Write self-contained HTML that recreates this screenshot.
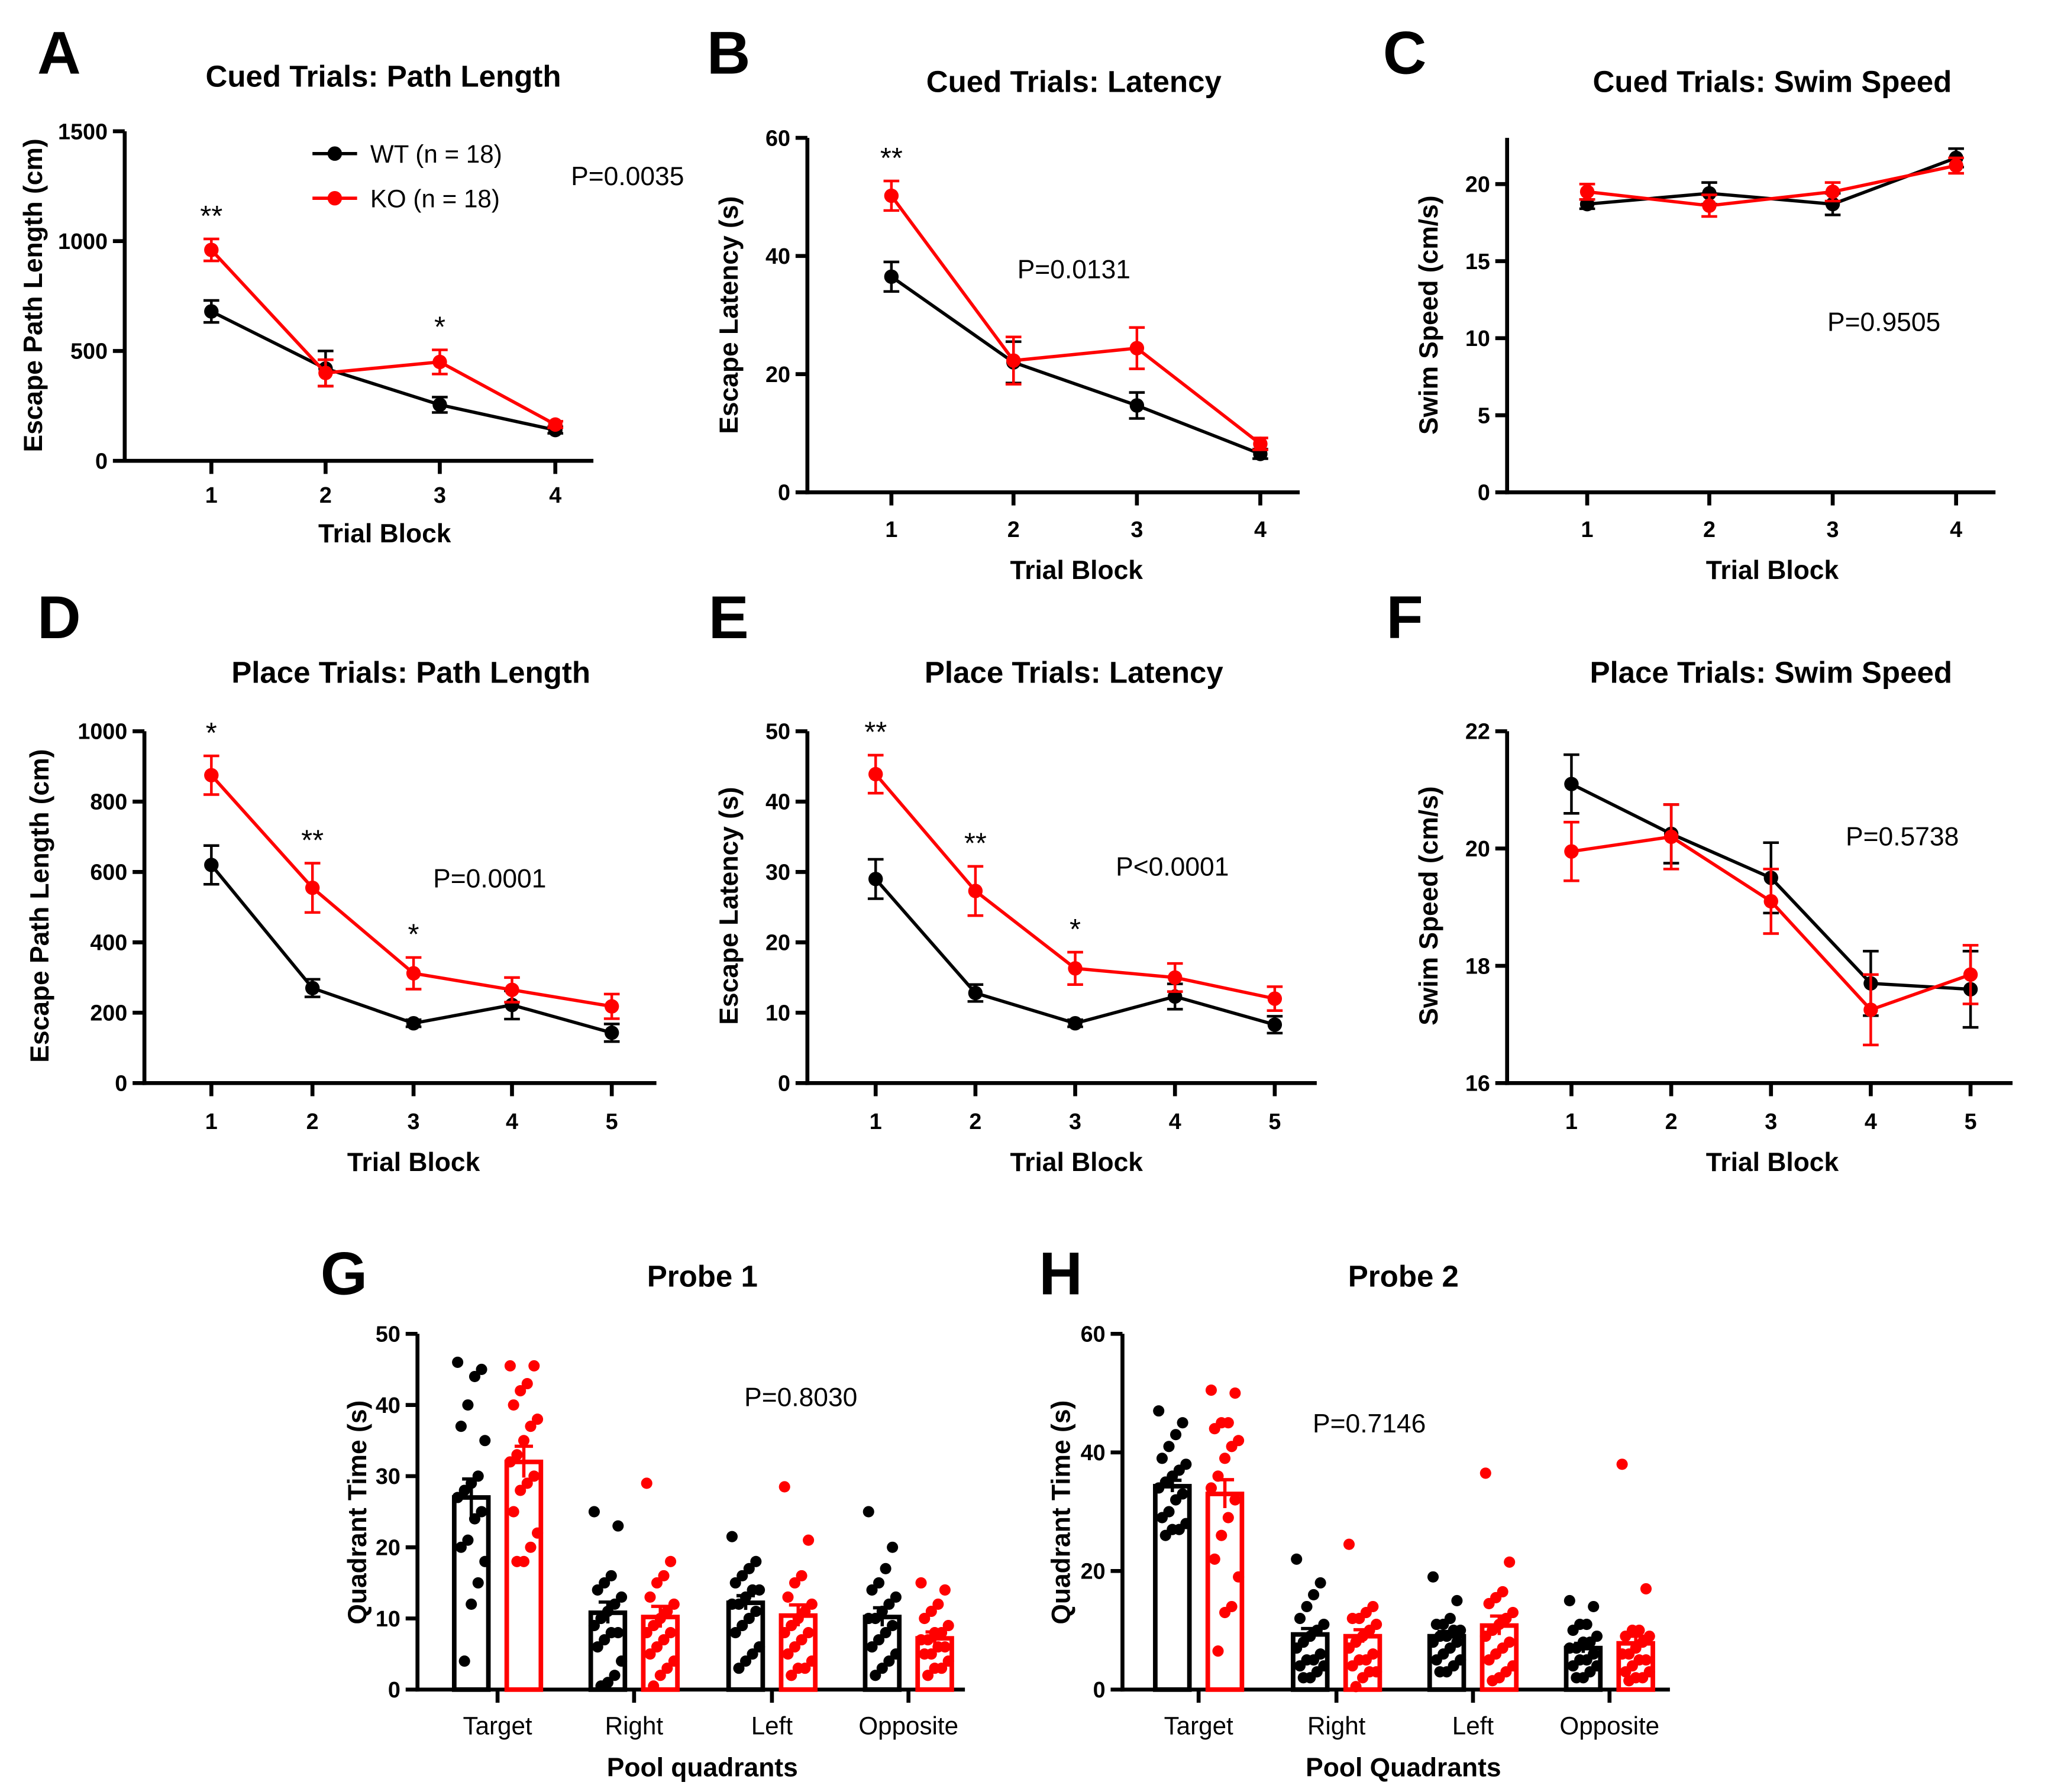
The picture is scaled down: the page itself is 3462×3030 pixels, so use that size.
<!DOCTYPE html>
<html><head><meta charset="utf-8"><style>
html,body{margin:0;padding:0;background:#fff}
svg{display:block}
text{font-family:"Liberation Sans",Arial,sans-serif}
</style></head><body>
<svg id="fig" xmlns="http://www.w3.org/2000/svg" width="3462" height="3030" viewBox="0 0 1560 1365" preserveAspectRatio="none"></svg>
<script>
// ---------- DATA ----------
const cuedBlocks = ["1","2","3","4"];
const placeBlocks = ["1","2","3","4","5"];
const aWT = [680,420,255,140], aWTerr=[50,80,35,15];
const aKO = [960,400,450,165], aKOerr=[50,60,55,15];
const aTicks = [0,500,1000,1500];
const bWT = [36.5,22,14.7,6.5], bWTerr=[2.5,3.5,2.2,0.8];
const bKO = [50.2,22.3,24.4,8.2], bKOerr=[2.5,4,3.5,1];
const bTicks = [0,20,40,60];
const cWT = [18.7,19.4,18.7,21.7], cWTerr=[0.3,0.7,0.7,0.6];
const cKO = [19.5,18.6,19.5,21.2], cKOerr=[0.5,0.7,0.6,0.5];
const cTicks = [0,5,10,15,20];
const dWT = [620,270,170,222,143], dWTerr=[55,25,10,40,25];
const dKO = [875,555,312,265,218], dKOerr=[55,70,45,35,35];
const dTicks = [0,200,400,600,800,1000];
const eWT = [29,12.8,8.5,12.3,8.3], eWTerr=[2.8,1.2,0.5,1.8,1.2];
const eKO = [43.9,27.3,16.3,15,12], eKOerr=[2.7,3.5,2.3,2,1.7];
const eTicks = [0,10,20,30,40,50];
const fWT = [21.1,20.25,19.5,17.7,17.6], fWTerr=[0.5,0.5,0.6,0.55,0.65];
const fKO = [19.95,20.2,19.1,17.25,17.85], fKOerr=[0.5,0.55,0.55,0.6,0.5];
const fTicks = [16,18,20,22];
const quadrants = ["Target","Right","Left","Opposite"];
const gWTmean=[27,10.8,12.2,10.2], gWTerr=[2.6,1.5,1.0,1.3];
const gKOmean=[32,10.2,10.4,7.2], gKOerr=[2.2,1.5,1.5,0.9];
const gWTpts=[[46,45,44,40,37,35,30,29,28,27,25,24,21,20,18,15,12,4],
 [25,23,16,15,14,13,12,11,10,9,8,8,7,6,4,2,1,0.5],
 [21.5,18,17,16,15,14,14,13,12,12,11,10,9,8,6,5,4,3],
 [25,20,17,15,14,13,12,11,10,10,9,8,7,6,5,4,3,2]];
const gKOpts=[[45.5,45.5,43,42,40,38,37,35,33,32,30,29,28,25,22,20,18,18],
 [29,18,16,15,13,12,11,10,9,8,8,7,6,5,4,3,2,0.5],
 [28.5,21,16,15,13,12,11,10,9,8,8,7,6,5,4,3,3,2],
 [15,14,12,11,10,9,8,8,7,7,6,6,5,5,4,3,3,2]];
const gTicks=[0,10,20,30,40,50];
const hWTmean=[34.3,9.3,9.0,7.0], hWTerr=[1.0,1.0,0.8,0.8];
const hKOmean=[33,9.0,10.8,7.8], hKOerr=[2.4,1.1,1.6,1.2];
const hWTpts=[[47,45,43,41,39,38,37,36,35,34,33,32,30,29,28,27,27,26],
 [22,18,16,14,12,11,10,9,8,7,6,5,5,4,4,3,2,2],
 [19,15,12,11,11,10,10,9,9,8,8,7,6,5,5,4,3,3],
 [15,14,11,11,10,9,8,8,7,7,6,5,5,4,4,3,2,2]];
const hKOpts=[[50.5,50,45,45,44,42,41,39,36,34,32,29,26,22,19,14,13,6.5],
 [24.5,14,13,12,12,11,10,9,8,7,6,5,5,4,3,3,2,0.5],
 [36.5,21.5,16.5,15.5,14.5,13,12,11,10,9,8,7,6,5,4,3,2,1.5],
 [38,17,10,10,9,9,8,7,6,6,5,5,4,3,3,2,2,1.5]];
const hTicks=[0,20,40,60];

// ---------- HELPERS ----------
const NS="http://www.w3.org/2000/svg";
const svg=document.getElementById('fig');
function mk(tag,attrs,parent){const e=document.createElementNS(NS,tag);for(const k in attrs)e.setAttribute(k,attrs[k]);(parent||svg).appendChild(e);return e;}
function txt(s,x,y,size,opt,parent){opt=opt||{};const t=mk('text',{x:x,y:y,'font-size':size,'font-weight':opt.bold?'bold':'normal','text-anchor':opt.anchor||'middle',fill:opt.fill||'#000'},parent);if(opt.rot)t.setAttribute('transform','rotate(-90 '+x+' '+y+')');t.textContent=s;return t;}

function axes(p){
  const g=mk('g',{});
  
  
  const yS=v=>p.y0+(v-p.ymin)/(p.ymax-p.ymin)*(p.y1-p.y0);
  mk('line',{x1:p.x0,y1:p.y0+1.5,x2:p.x0,y2:p.y1,stroke:'#000','stroke-width':3},g);
  mk('line',{x1:p.x0-1.5,y1:p.y0,x2:p.xe,y2:p.y0,stroke:'#000','stroke-width':3},g);
  p.ticks.forEach(v=>{const y=yS(v);mk('line',{x1:p.x0-9,y1:y,x2:p.x0,y2:y,stroke:'#000','stroke-width':3},g);
    const t=txt(String(v),p.x0-13,y+6,17,{anchor:'end',bold:true},g);});
  p.cx.forEach((x,i)=>{mk('line',{x1:x,y1:p.y0,x2:x,y2:p.y0+10,stroke:'#000','stroke-width':3},g);
    if(p.cats){const t=txt(p.cats[i],x,p.y0+p.catdy,p.catsize||17,{bold:p.catbold},g);}});
  const tt=txt(p.title,p.tx,p.ty,23,{bold:true},g);
  const xl=txt(p.xlabel,p.xlx,p.xly,20,{bold:true},g);
  const yl=txt(p.ylabel,p.ylx,p.yly,20,{bold:true,rot:true},g);
  const L=txt(p.letter,p.lx,p.ly,46,{bold:true},g);
  if(p.pval){const pv=txt(p.pval,p.px,p.py,20,{},g);}
  return {g,yS};
}
function series(A,p,vals,errs,color,name){
  const g=mk('g',{},A.g);
  
  
  const pts=vals.map((v,i)=>p.cx[i]+','+A.yS(v)).join(' ');
  mk('polyline',{points:pts,fill:'none',stroke:color,'stroke-width':2.5},g);
  vals.forEach((v,i)=>{const x=p.cx[i],y=A.yS(v),t=A.yS(v+errs[i]),b=A.yS(v-errs[i]);
    mk('line',{x1:x,y1:t,x2:x,y2:b,stroke:color,'stroke-width':2},g);
    mk('line',{x1:x-6,y1:t,x2:x+6,y2:t,stroke:color,'stroke-width':2},g);
    mk('line',{x1:x-6,y1:b,x2:x+6,y2:b,stroke:color,'stroke-width':2},g);
    const c=mk('circle',{cx:x,cy:y,r:5.5,fill:color},g);
    
    });
}
function stars(A,p,idx,vals,errs,labels){
  idx.forEach((i,k)=>{const t=txt(labels[k],p.cx[i],A.yS(vals[i]+errs[i])-10,22,{},A.g);
    });
}
function lineChart(p,wt,wte,ko,koe){
  const A=axes(p);
  series(A,p,wt,wte,'#000','wt-series');
  series(A,p,ko,koe,'#f00','ko-series');
  return A;
}

// A
const pA={name:'panel-a',x0:95,y0:351,y1:100,ymin:0,ymax:1500,xe:452,cx:[161,248,335,423],cats:cuedBlocks,catdy:32,catbold:true,ticks:aTicks,
 title:'Cued Trials: Path Length',tx:292,ty:66,xlabel:'Trial Block',xlx:293,xly:413,ylabel:'Escape Path Length (cm)',ylx:32,yly:225,letter:'A',lx:45,ly:56,pval:'P=0.0035',px:478,py:141};
const A=lineChart(pA,aWT,aWTerr,aKO,aKOerr);
stars(A,pA,[0,2],aKO,aKOerr,['**','*']);
// legend
(function(){const g=mk('g',{},A.g);
 [['WT (n = 18)','#000',117],['KO (n = 18)','#f00',151]].forEach(([l,c,y])=>{
  const e=mk('g',{},g);
  mk('line',{x1:238,y1:y,x2:272,y2:y,stroke:c,'stroke-width':2.5},e);mk('circle',{cx:255,cy:y,r:5.5,fill:c},e);
  txt(l,282,y+7,19,{anchor:'start'},e);});})();
// B
const pB={name:'panel-b',x0:615,y0:375,y1:105,ymin:0,ymax:60,xe:990,cx:[679,772,866,960],cats:cuedBlocks,catdy:34,catbold:true,ticks:bTicks,
 title:'Cued Trials: Latency',tx:818,ty:70,xlabel:'Trial Block',xlx:820,xly:441,ylabel:'Escape Latency (s)',ylx:562,yly:240,letter:'B',lx:555,ly:56,pval:'P=0.0131',px:818,py:212};
const B=lineChart(pB,bWT,bWTerr,bKO,bKOerr);
stars(B,pB,[0],bKO,bKOerr,['**']);
// C
const pC={name:'panel-c',x0:1148,y0:375,y1:105,ymin:0,ymax:23,xe:1520,cx:[1209,1302,1396,1490],cats:cuedBlocks,catdy:34,catbold:true,ticks:cTicks,
 title:'Cued Trials: Swim Speed',tx:1350,ty:70,xlabel:'Trial Block',xlx:1350,xly:441,ylabel:'Swim Speed (cm/s)',ylx:1095,yly:240,letter:'C',lx:1070,ly:56,pval:'P=0.9505',px:1435,py:252};
lineChart(pC,cWT,cWTerr,cKO,cKOerr);
// D
const pD={name:'panel-d',x0:110,y0:825,y1:557,ymin:0,ymax:1000,xe:500,cx:[161,238,315,390,466],cats:placeBlocks,catdy:35,catbold:true,ticks:dTicks,
 title:'Place Trials: Path Length',tx:313,ty:520,xlabel:'Trial Block',xlx:315,xly:892,ylabel:'Escape Path Length (cm)',ylx:37,yly:690,letter:'D',lx:45,ly:486,pval:'P=0.0001',px:373,py:676};
const D=lineChart(pD,dWT,dWTerr,dKO,dKOerr);
stars(D,pD,[0,1,2],dKO,dKOerr,['*','**','*']);
// E
const pE={name:'panel-e',x0:615,y0:825,y1:557,ymin:0,ymax:50,xe:1003,cx:[667,743,819,895,971],cats:placeBlocks,catdy:35,catbold:true,ticks:eTicks,
 title:'Place Trials: Latency',tx:818,ty:520,xlabel:'Trial Block',xlx:820,xly:892,ylabel:'Escape Latency (s)',ylx:562,yly:690,letter:'E',lx:555,ly:486,pval:'P<0.0001',px:893,py:667};
const E=lineChart(pE,eWT,eWTerr,eKO,eKOerr);
stars(E,pE,[0,1,2],eKO,eKOerr,['**','**','*']);
// F
const pF={name:'panel-f',x0:1148,y0:825,y1:557,ymin:16,ymax:22,xe:1533,cx:[1197,1273,1349,1425,1501],cats:placeBlocks,catdy:35,catbold:true,ticks:fTicks,
 title:'Place Trials: Swim Speed',tx:1349,ty:520,xlabel:'Trial Block',xlx:1350,xly:892,ylabel:'Swim Speed (cm/s)',ylx:1095,yly:690,letter:'F',lx:1070,ly:486,pval:'P=0.5738',px:1449,py:644};
lineChart(pF,fWT,fWTerr,fKO,fKOerr);

// Bar charts
function barChart(p,wm,we,km,ke,wp,kp){
  const A=axes(p);
  const bw=26;
  [[wm,we,wp,'#000',-20,'wt'],[km,ke,kp,'#f00',20,'ko']].forEach(([m,e,pts,c,off,nm])=>{
    m.forEach((v,i)=>{const x=p.cx[i]+off;const y=A.yS(v);
      const bg=mk('g',{},A.g);
      
      
      mk('rect',{x:x-bw/2,y:y,width:bw,height:p.y0-y,fill:'none',stroke:c,'stroke-width':3.5},bg);
      pts[i].forEach((pv,j)=>{const jx=((j*7)%9-4)*2.6;
        const d=mk('circle',{cx:x+jx,cy:A.yS(pv),r:4.3,fill:c},bg);
        
        });
      const t=A.yS(v+e[i]),b=A.yS(v-e[i]);
      mk('line',{x1:x,y1:t,x2:x,y2:b,stroke:c,'stroke-width':2.5},bg);
      mk('line',{x1:x-7,y1:t,x2:x+7,y2:t,stroke:c,'stroke-width':2.5},bg);
    });
  });
  return A;
}
const pG={name:'panel-g',x0:318,y0:1287,y1:1016,ymin:0,ymax:50,xe:735,cx:[379,483,588,692],cats:quadrants,catdy:34,catsize:19,ticks:gTicks,
 title:'Probe 1',tx:535,ty:980,xlabel:'Pool quadrants',xlx:535,xly:1353,ylabel:'Quadrant Time (s)',ylx:279,yly:1152,letter:'G',lx:262,ly:986,pval:'P=0.8030',px:610,py:1071};
barChart(pG,gWTmean,gWTerr,gKOmean,gKOerr,gWTpts,gKOpts);
const pH={name:'panel-h',x0:855,y0:1287,y1:1016,ymin:0,ymax:60,xe:1272,cx:[913,1018,1122,1226],cats:quadrants,catdy:34,catsize:19,ticks:hTicks,
 title:'Probe 2',tx:1069,ty:980,xlabel:'Pool Quadrants',xlx:1069,xly:1353,ylabel:'Quadrant Time (s)',ylx:815,yly:1152,letter:'H',lx:808,ly:986,pval:'P=0.7146',px:1043,py:1091};
barChart(pH,hWTmean,hWTerr,hKOmean,hKOerr,hWTpts,hKOpts);
</script>
</body></html>
